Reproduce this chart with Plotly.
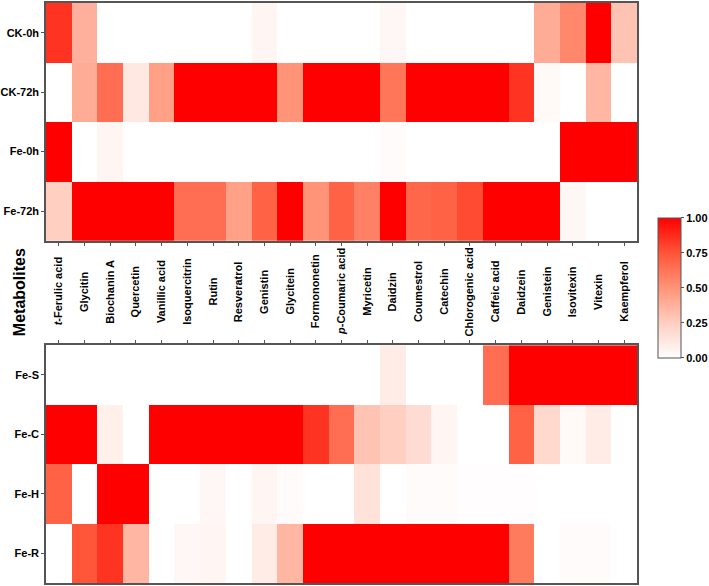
import plotly.graph_objects as go

metabolites = ["<i>t</i>-Ferulic acid", "Glycitin", "Biochanin A", "Quercetin", "Vanillic acid",
               "Isoquercitrin", "Rutin", "Resveratrol", "Genistin", "Glycitein", "Formononetin",
               "<i>p</i>-Coumaric acid", "Myricetin", "Daidzin", "Coumestrol", "Catechin",
               "Chlorogenic acid", "Caffeic acid", "Daidzein", "Genistein", "Isovitexin",
               "Vitexin", "Kaempferol"]

top_rows = ["CK-0h", "CK-72h", "Fe-0h", "Fe-72h"]
ck_0h =  [0.85, 0.38, 0, 0, 0, 0, 0, 0, 0.05, 0, 0, 0, 0, 0.04, 0, 0, 0, 0, 0, 0.40, 0.55, 1.0, 0.30]
ck_72h = [0, 0.40, 0.65, 0.12, 0.45, 1.0, 1.0, 1.0, 1.0, 0.50, 1.0, 1.0, 1.0, 0.62, 1.0, 1.0, 1.0, 1.0, 0.85, 0.03, 0, 0.35, 0]
fe_0h =  [1.0, 0, 0.05, 0, 0, 0, 0, 0, 0, 0, 0, 0, 0, 0.02, 0, 0, 0, 0, 0, 0, 1.0, 1.0, 1.0]
fe_72h = [0.25, 1.0, 1.0, 1.0, 1.0, 0.65, 0.65, 0.45, 0.70, 1.0, 0.50, 0.70, 0.58, 1.0, 0.68, 0.70, 0.78, 1.0, 1.0, 1.0, 0.04, 0, 0]

bottom_rows = ["Fe-S", "Fe-C", "Fe-H", "Fe-R"]
fe_s = [0, 0, 0, 0, 0, 0, 0, 0, 0, 0, 0, 0, 0, 0.10, 0, 0, 0, 0.65, 1.0, 1.0, 1.0, 1.0, 1.0]
fe_c = [1.0, 1.0, 0.08, 0, 1.0, 1.0, 1.0, 1.0, 1.0, 1.0, 0.85, 0.65, 0.30, 0.25, 0.18, 0.05, 0, 0, 0.70, 0.20, 0.03, 0.10, 0]
fe_h = [0.70, 0, 1.0, 1.0, 0, 0, 0.04, 0, 0.05, 0.02, 0, 0, 0.15, 0, 0.02, 0.02, 0.01, 0.01, 0.01, 0, 0, 0, 0]
fe_r = [0, 0.75, 0.85, 0.35, 0, 0.04, 0.05, 0, 0.10, 0.35, 1.0, 1.0, 1.0, 1.0, 1.0, 1.0, 1.0, 1.0, 0.60, 0, 0.02, 0.02, 0]

colorbar_ticks = [0, 0.25, 0.5, 0.75, 1.0]
colorbar_ticktext = ["0.00", "0.25", "0.50", "0.75", "1.00"]

cscale = [[0, "#FFFFFF"], [0.25, "#FFCFC2"], [0.5, "#FF9478"], [0.75, "#FF5538"], [1, "#FF0000"]]
FONT = "Liberation Sans, Arial, sans-serif"
xidx = list(range(len(metabolites)))

fig = go.Figure()
fig.add_trace(go.Heatmap(z=[ck_0h, ck_72h, fe_0h, fe_72h], x=xidx, y=top_rows,
                         zmin=0, zmax=1, colorscale=cscale, xaxis="x", yaxis="y",
                         colorbar=dict(x=1.035, xanchor="left", xpad=0, ypad=0,
                                       y=0.509, yanchor="middle", len=140, lenmode="pixels",
                                       thickness=23, outlinewidth=1, outlinecolor="#555555",
                                       tickvals=colorbar_ticks, ticktext=colorbar_ticktext,
                                       ticks="outside", ticklen=3, tickcolor="#555555",
                                       tickfont=dict(family=FONT, size=11, color="black", weight="bold"))))
fig.add_trace(go.Heatmap(z=[fe_s, fe_c, fe_h, fe_r], x=xidx, y=bottom_rows,
                         zmin=0, zmax=1, colorscale=cscale, showscale=False,
                         xaxis="x2", yaxis="y2"))

axis_common = dict(showline=True, linecolor="#555555", linewidth=1.5, mirror=True,
                   showgrid=False, zeroline=False, ticks="outside", ticklen=3, tickcolor="#555555")
tickfont = dict(family=FONT, size=11, color="black", weight="bold")

fig.update_layout(
    width=709, height=586,
    margin=dict(l=42, r=69, t=1, b=2),
    paper_bgcolor="white", plot_bgcolor="white",
    xaxis=dict(axis_common, domain=[0, 1], anchor="y", tickvals=xidx, showticklabels=False,
               range=[-0.5, len(metabolites) - 0.5]),
    yaxis=dict(axis_common, domain=[0.590, 1], anchor="x", autorange="reversed", tickfont=tickfont),
    xaxis2=dict(axis_common, domain=[0, 1], anchor="y2", side="top", tickvals=xidx,
                showticklabels=False, range=[-0.5, len(metabolites) - 0.5]),
    yaxis2=dict(axis_common, domain=[0, 0.410], anchor="x2", autorange="reversed", tickfont=tickfont),
)

annotations = []
for i, name in enumerate(metabolites):
    annotations.append(dict(x=i, xref="x", y=0.5026, yref="paper", text=name, textangle=-90,
                            showarrow=False, xanchor="center", yanchor="middle",
                            font=dict(family=FONT, size=11, color="black", weight="bold")))
annotations.append(dict(x=0, xref="paper", xanchor="center", xshift=-27, y=0.5015, yref="paper",
                        yanchor="middle", text="Metabolites", textangle=-90, showarrow=False,
                        font=dict(family=FONT, size=16, color="black", weight="bold")))
fig.update_layout(annotations=annotations)

fig.write_html("out.html")
